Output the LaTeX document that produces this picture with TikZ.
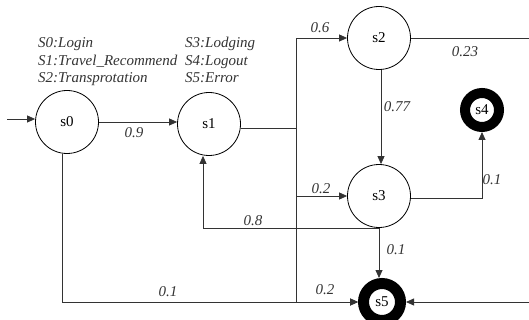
\documentclass[tikz,border=0pt]{standalone}
\usepackage{fontspec}
\setmainfont{Liberation Serif}
\usetikzlibrary{arrows.meta}
\begin{document}
\begin{tikzpicture}[x=1pt,y=-1pt,
  state/.style={circle,draw=black,line width=0.8pt,minimum size=63pt,inner sep=0pt,font=\fontsize{15}{17}\selectfont},
  finalstate/.style={circle,draw=black,line width=10pt,minimum size=34pt,inner sep=0pt,font=\fontsize{15}{17}\selectfont},
  conn/.style={draw=black!80,line width=0.8pt},
  arr/.style={conn,-{Triangle[length=8pt,width=7pt]}},
  lbl/.style={font=\fontsize{15}{17}\selectfont\itshape,inner sep=0pt,text=black!80},
  legend/.style={font=\fontsize{15}{17}\selectfont\itshape,anchor=base west,inner sep=0pt,text=black!80}]
\useasboundingbox (0,0) rectangle (529,320);
% legend
\node[legend] (l0) at (38,48) {S0:Login};
\node[legend] (l1) at (38,65.5) {S1:Travel\_Recommend};
\node[legend] (l2) at (38,83) {S2:Transprotation};
\node[legend] (l3) at (185,48) {S3:Lodging};
\node[legend] (l4) at (185,65.5) {S4:Logout};
\node[legend] (l5) at (185,83) {S5:Error};
% states
\node[state] (s0) at (67,122) {s0};
\node[state] (s1) at (209,124) {s1};
\node[state] (s2) at (379,38) {s2};
\node[state] (s3) at (379,196) {s3};
\node[finalstate] (s4) at (482,110) {s4};
\node[finalstate,minimum size=37pt,line width=11pt] (s5) at (382,302) {s5};
% helper coordinates
\coordinate (start) at (7,119);
\coordinate (j) at (296,128);
\coordinate (far) at (545,302);
% connectors
\draw[arr] (start) -- (start -| s0.west);
\draw[arr] (s0.east) -- (s0.east -| s1.west);
\draw[conn] (s1.east |- j) -- (j);
\draw[arr] (j) |- (s2.west);
\draw[arr] (j) |- (s3.west);
\draw[arr] (j) |- (s5.west);
\draw[arr] ([xshift=-5pt]s0.south) |- (s5.west);
\draw[arr] ([xshift=2pt]s2.south) -- ([xshift=2pt]s3.north);
\draw[arr] (s2.east) -- (s2.east -| far) |- (s5.east);
\draw[arr] ([yshift=-2pt]s3.east) -| (s4.south);
\draw[arr] (s3.south) -| ([xshift=-6pt]s1.south);
\draw[arr] (s3.south) -- (s3.south |- s5.north);
% labels
\node[lbl] (e01) at (134,133) {0.9};
\node[lbl] (e12) at (320,28) {0.6};
\node[lbl] (e13) at (321,189) {0.2};
\node[lbl] (e15) at (325,290) {0.2};
\node[lbl] (e05) at (168,292) {0.1};
\node[lbl] (e23) at (397,107) {0.77};
\node[lbl] (e25) at (465,52) {0.23};
\node[lbl] (e34) at (492,180) {0.1};
\node[lbl] (e31) at (253,221) {0.8};
\node[lbl] (e35) at (396,250) {0.1};
\end{tikzpicture}
\end{document}
